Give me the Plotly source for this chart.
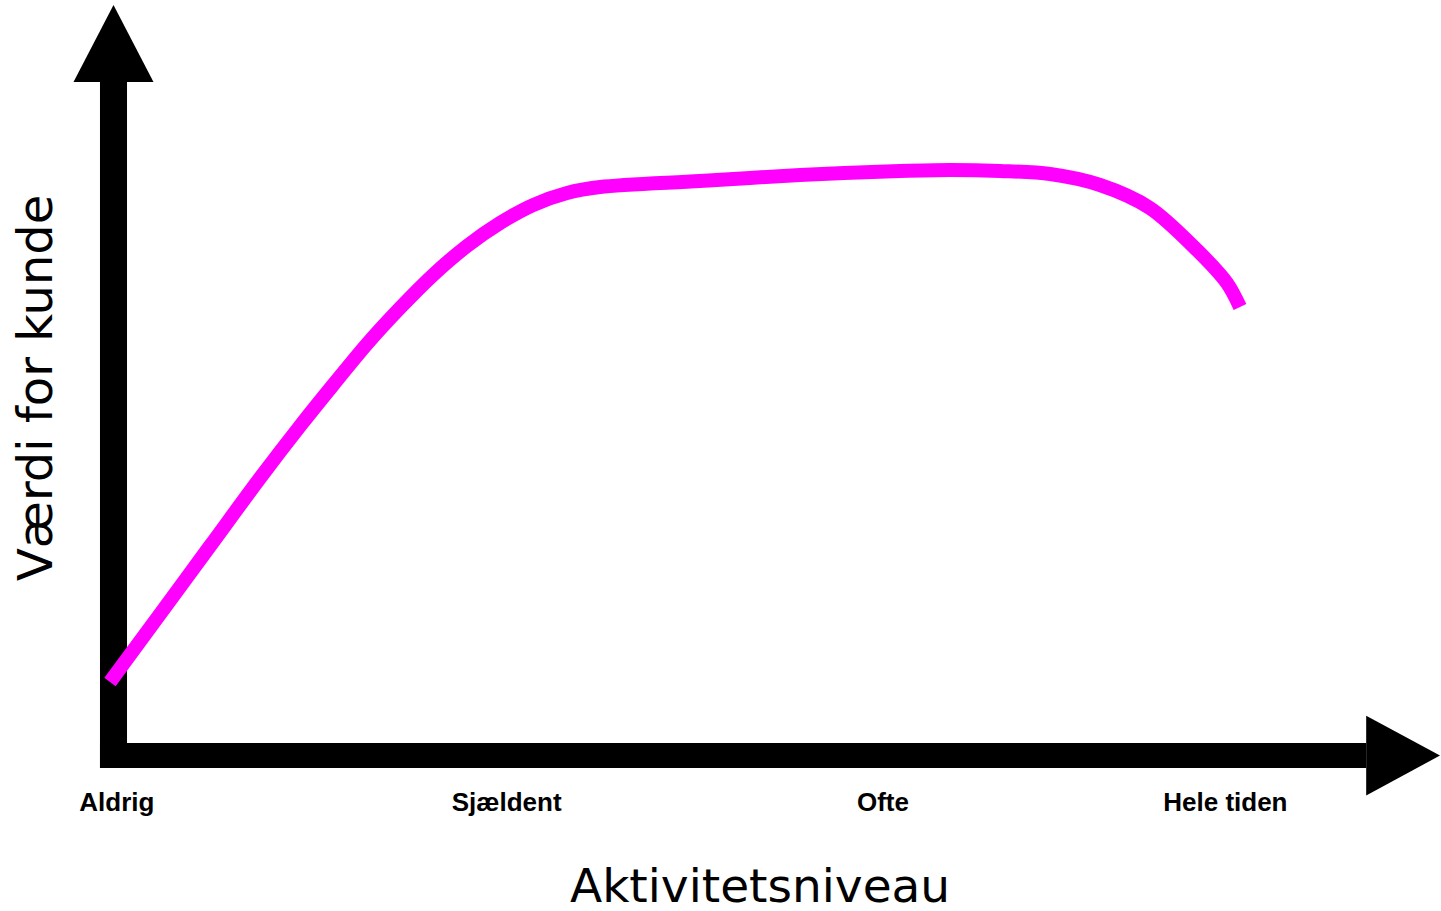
import plotly.graph_objects as go

# ---- data ----
activity = [-0.31, 4.13, 8.57, 13.01, 16.56, 19.49, 22.50, 25.43, 28.36, 31.38, 34.31,
            37.24, 40.26, 43.19, 52.06, 60.94, 69.82, 74.26, 78.70, 83.13, 87.57,
            92.01, 96.18, 98.84, 100.0]
value = [10.5, 20.21, 29.93, 39.64, 47.07, 52.93, 58.79, 63.93, 68.64, 72.79, 76.07,
         78.64, 80.36, 81.21, 82.07, 82.93, 83.50, 83.64, 83.50, 83.07, 81.50,
         78.21, 72.21, 67.5, 64.07]
tick_labels = ["Aldrig", "Sjældent", "Ofte", "Hele tiden"]
tick_positions = [0.3, 34.9, 68.3, 98.7]
x_title = "Aktivitetsniveau"
y_title = "Værdi for kunde"

W, H = 1441, 911
X_RANGE = [-10.075, 117.84]
Y_RANGE = [-22.21, 107.93]

fig = go.Figure()
fig.add_trace(go.Scatter(
    x=activity, y=value, mode="lines",
    line=dict(color="#ff00ff", width=14, shape="spline", smoothing=0.9),
    hoverinfo="skip", showlegend=False,
))

shapes = [
    # vertical axis bar
    dict(type="rect", xref="x", yref="y", x0=-1.2, x1=1.2, y0=-1.79, y1=96.2,
         fillcolor="black", line=dict(width=0), layer="below"),
    # horizontal axis bar
    dict(type="rect", xref="x", yref="y", x0=-1.2, x1=111.2, y0=-1.79, y1=1.79,
         fillcolor="black", line=dict(width=0), layer="below"),
    # up arrowhead
    dict(type="path", xref="x", yref="y",
         path="M -3.55,96.2 L 3.55,96.2 L 0,107.2 Z",
         fillcolor="black", line=dict(width=0), layer="below"),
    # right arrowhead
    dict(type="path", xref="x", yref="y",
         path="M 111.2,5.7 L 111.2,-5.7 L 117.75,0 Z",
         fillcolor="black", line=dict(width=0), layer="below"),
]

fig.update_layout(
    width=W, height=H,
    margin=dict(l=0, r=0, t=0, b=0),
    paper_bgcolor="white", plot_bgcolor="white",
    shapes=shapes,
    xaxis=dict(range=X_RANGE, domain=[0, 1], anchor="free", position=(H - 768) / H,
               tickmode="array", tickvals=tick_positions, ticktext=tick_labels,
               ticks="outside", ticklen=11, tickcolor="rgba(0,0,0,0)",
               tickfont=dict(family="Liberation Sans", size=26, color="black",
                             weight="bold"),
               showgrid=False, zeroline=False, showline=False, fixedrange=True),
    yaxis=dict(range=Y_RANGE, domain=[0, 1], showticklabels=False, ticks="",
               showgrid=False, zeroline=False, showline=False, fixedrange=True),
    annotations=[
        dict(text=x_title, xref="paper", yref="paper", x=760 / W, y=(H - 885) / H,
             xanchor="center", yanchor="middle", showarrow=False,
             font=dict(family="DejaVu Sans", size=47, color="black")),
        dict(text=y_title, xref="paper", yref="paper", x=35 / W, y=(H - 388) / H,
             xanchor="center", yanchor="middle", showarrow=False, textangle=-90,
             font=dict(family="DejaVu Sans", size=48, color="black")),
    ],
)

fig.write_html("out.html", config={"displayModeBar": False},
               post_script="document.body.style.margin='0';")
